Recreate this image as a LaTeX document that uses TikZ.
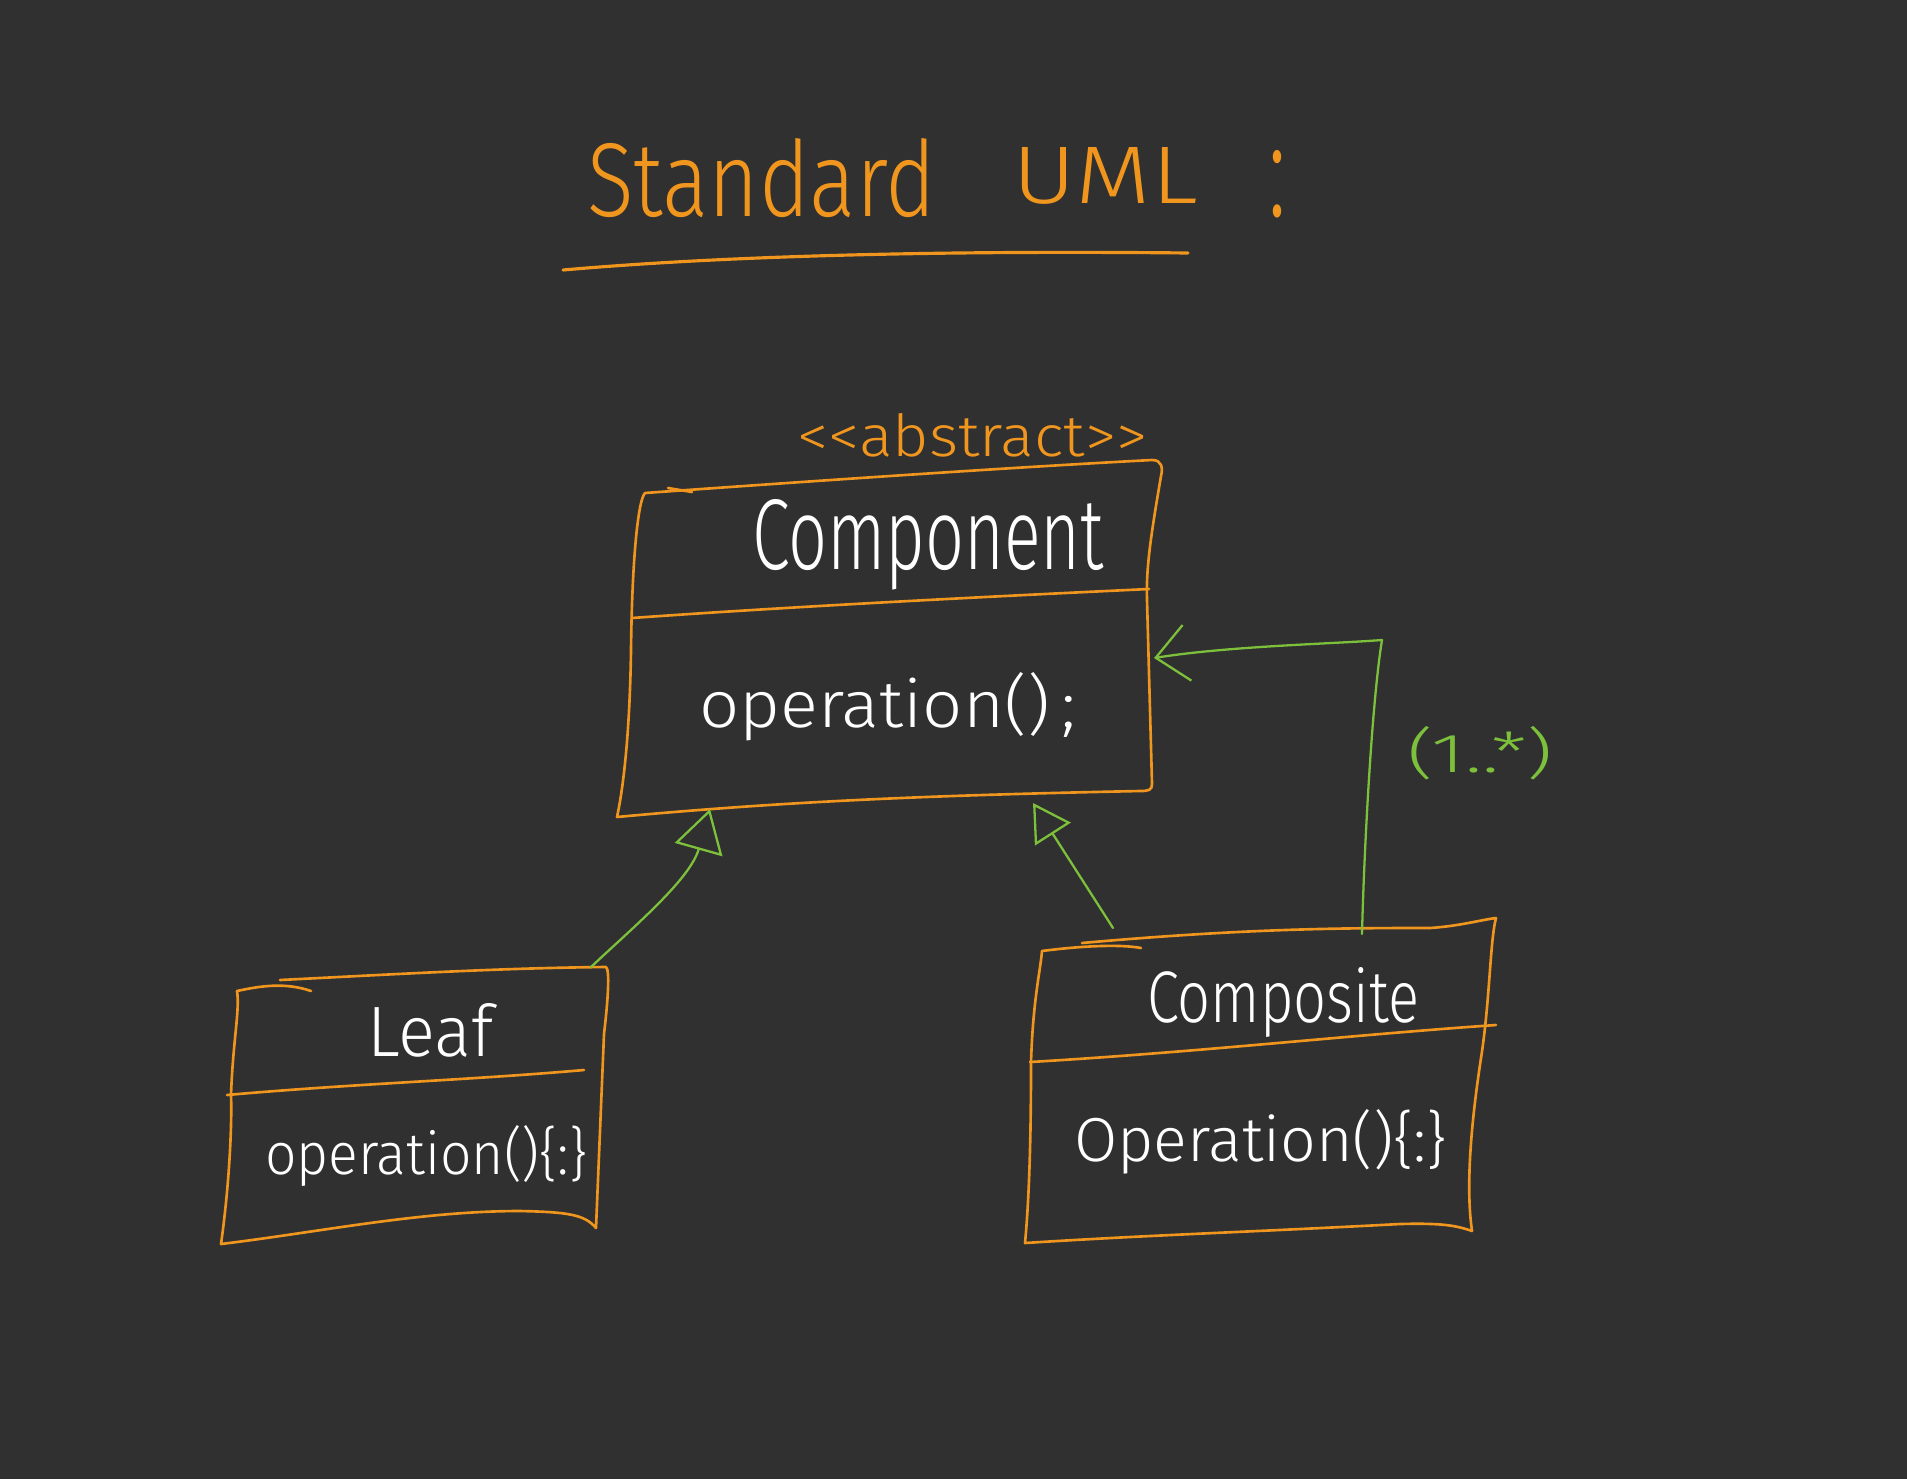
\documentclass[tikz,border=0pt]{standalone}
\usepackage{fontspec}
\setmainfont{Fira Sans Light}
\usetikzlibrary{arrows.meta}
\definecolor{bg}{HTML}{303030}
\definecolor{org}{HTML}{F0961E}
\definecolor{grn}{HTML}{7DC03C}
\newcommand\mybox[3]{\resizebox{#1cm}{#2cm}{#3}}
\begin{document}
\begin{tikzpicture}[x=0.01cm,y=-0.01cm,
  box/.style={draw=org, line width=0.75pt, line join=round, line cap=round},
  rel/.style={draw=grn, line width=0.65pt, line join=round, line cap=round},
  lbl/.style={inner sep=0pt, outer sep=0pt, anchor=base west, text=white},
  olbl/.style={lbl, text=org},
  glbl/.style={lbl, text=grn}]
\fill[bg] (0,0) rectangle (1907,1479);
\useasboundingbox (0,0) rectangle (1907,1479);

% title
\node[olbl] (t1) at (587,216) {\mybox{3.49}{0.78}{Standard}};
\node[olbl] (t2) at (1012,204) {\mybox{1.86}{0.56}{UML}};
\node[olbl] (t3) at (1268,216) {\mybox{0.18}{0.66}{:}};
\draw[box, line width=0.9pt] (563,270) .. controls (700,258) and (900,250) .. (1188,253);

% Component
\node[olbl] (abs) at (797,456) {\mybox{3.50}{0.43}{<{}<abstract>{}>}};
\draw[box] (645,493) .. controls (800,482) and (1000,468) .. (1152,460)
  .. controls (1162,460) and (1163,468) .. (1161,476)
  .. controls (1150,540) and (1146,570) .. (1147,600)
  -- (1152,784) .. controls (1152,790) and (1149,791) .. (1140,791)
  .. controls (950,795) and (800,800) .. (617,817)
  .. controls (625,780) and (630,720) .. (631,650)
  .. controls (632,560) and (638,500) .. (645,493) -- cycle;
\draw[box] (668,488) -- (692,492);
\draw[box] (632,618) .. controls (800,606) and (1000,596) .. (1149,589);
\node[lbl] (comp) at (752,569) {\mybox{3.52}{0.70}{Component}};
\node[lbl] (compop) at (699,727) {\mybox{3.77}{0.55}{operation()\,;}};

% Leaf
\draw[box] (280,980) .. controls (400,974) and (500,968) .. (606,967)
  .. controls (610,970) and (608,1000) .. (604,1034)
  -- (596,1228) .. controls (585,1215) and (570,1212) .. (520,1211)
  .. controls (420,1211) and (320,1232) .. (221,1244)
  .. controls (230,1180) and (232,1120) .. (231,1095)
  .. controls (233,1040) and (240,1010) .. (237,991);
\draw[box] (237,991) .. controls (260,986) and (285,982) .. (311,991);
\draw[box] (227,1095) .. controls (350,1084) and (470,1080) .. (584,1070);
\node[lbl] (leaf) at (367,1056) {\mybox{1.26}{0.53}{Leaf}};
\node[lbl] (leafop) at (265,1174) {\mybox{3.22}{0.49}{operation()\{:\}}};

% Composite
\draw[box] (1082,943) .. controls (1250,928) and (1350,928) .. (1430,928)
  .. controls (1460,926) and (1480,920) .. (1496,918)
  .. controls (1490,940) and (1490,1000) .. (1481,1058)
  .. controls (1470,1130) and (1466,1190) .. (1472,1231)
  .. controls (1455,1225) and (1440,1223) .. (1400,1224)
  .. controls (1250,1232) and (1150,1235) .. (1025,1243)
  .. controls (1030,1190) and (1031,1120) .. (1031,1062)
  .. controls (1033,1000) and (1040,973) .. (1042,951);
\draw[box] (1042,951) .. controls (1080,946) and (1120,944) .. (1141,948);
\draw[box] (1030,1062) .. controls (1200,1052) and (1350,1035) .. (1496,1025);
\node[lbl] (cmpst) at (1147,1022) {\mybox{2.72}{0.55}{Composite}};
\node[lbl] (cmpstop) at (1074,1161) {\mybox{3.73}{0.52}{Operation()\{:\}}};

% connectors
\coordinate (leafTop) at (591,967);
\coordinate (compBL) at (710,809);
\coordinate (cmpstTop) at (1113,928);
\coordinate (compBR) at (1033,803);
\coordinate (cmpstTopR) at (1362,934);
\coordinate (compRight) at (1154,658);

\draw[rel, -{Triangle[open, length=12pt, width=14pt, fill=bg]}]
  (leafTop) .. controls (630,930) and (690,880) .. (compBL);
\draw[rel, -{Triangle[open, length=10.5pt, width=12pt, fill=bg]}]
  (cmpstTop) -- (compBR);
\draw[rel, -{Straight Barb[length=9pt, width=16pt]}]
  (cmpstTopR) .. controls (1364,850) and (1372,700) .. (1382,640)
  .. controls (1330,644) and (1230,646) .. (compRight);
\node[glbl] (mult) at (1407,772) {\mybox{1.46}{0.46}{(1..*)}};
\end{tikzpicture}
\end{document}
